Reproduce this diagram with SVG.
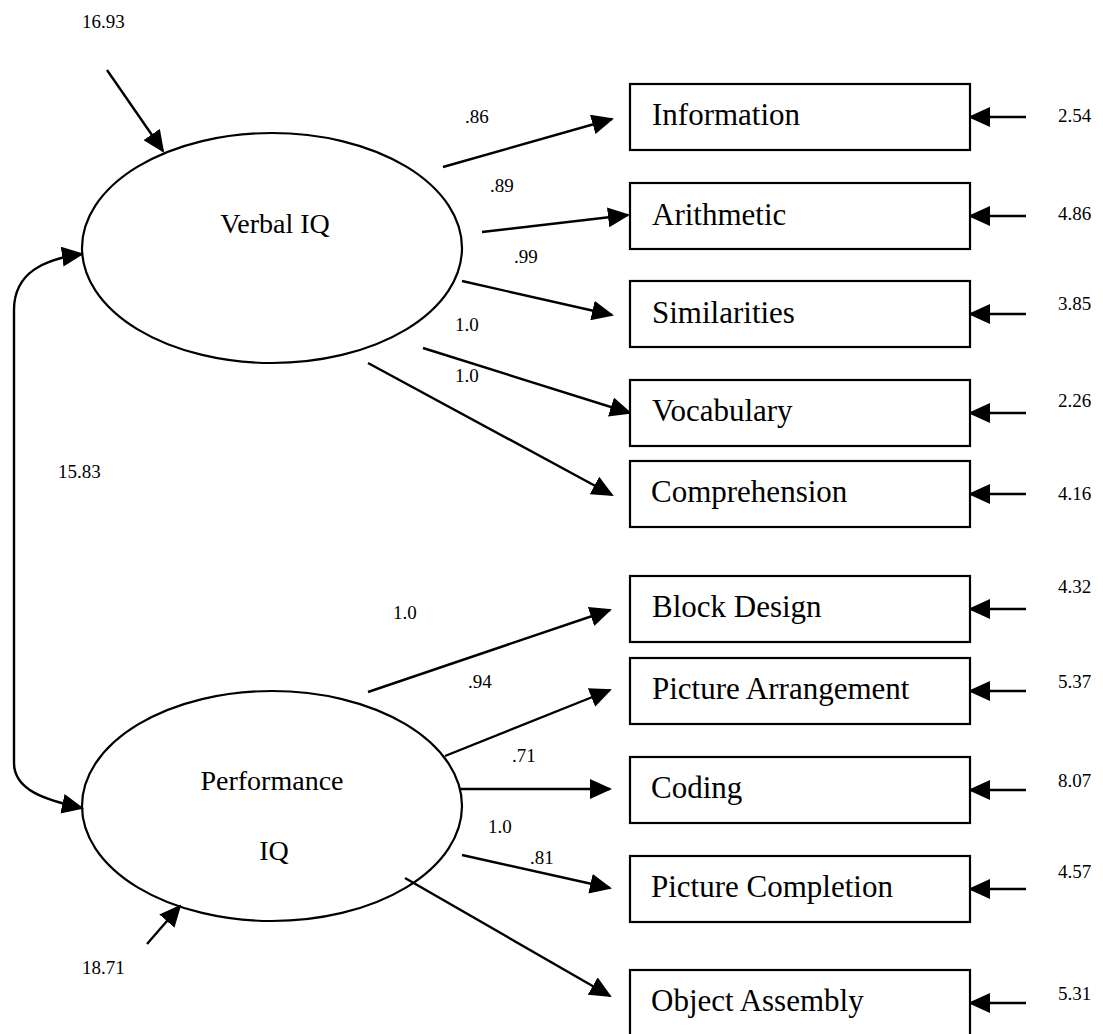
<svg xmlns="http://www.w3.org/2000/svg" width="1103" height="1034" viewBox="0 0 1103 1034">
  <style>
    .bg { fill: #ffffff; }
    .latent { fill: none; stroke: #000; stroke-width: 2.2; }
    .box { fill: #ffffff; stroke: #000; stroke-width: 2.2; }
    .lbl { font-family: "Liberation Serif", "Times New Roman", serif; font-size: 31px; fill: #000; }
    .lat { font-family: "Liberation Serif", "Times New Roman", serif; font-size: 28px; fill: #000; text-anchor: middle; }
    .num { font-family: "Liberation Serif", "Times New Roman", serif; font-size: 19px; fill: #000; }
    .conn { fill: none; stroke: #000; stroke-width: 2.4; marker-end: url(#head); }
  </style>
  <defs>
    <marker id="head" viewBox="0 0 22 20" refX="20" refY="10" markerWidth="22" markerHeight="20" markerUnits="userSpaceOnUse" orient="auto-start-reverse">
      <path d="M0,0 L22,10 L0,20 Z" fill="#000"/>
    </marker>
  </defs>

  <rect class="bg" x="0" y="0" width="1103" height="1034"/>

  <!-- connectors: loadings, residual arrows, covariance -->
  <g id="connectors">
    <!-- covariance between the two factors -->
    <path class="conn" style="marker-start: url(#head)" d="M82,254 C45,259 14,272 14,310 L14,763 C14,790 45,800 82,808"/>
    <!-- factor disturbances -->
    <line class="conn" x1="107" y1="70" x2="163" y2="151"/>
    <line class="conn" x1="147" y1="944" x2="180" y2="906"/>
    <!-- Verbal IQ loadings -->
    <line class="conn" x1="443" y1="167" x2="612" y2="119"/>
    <line class="conn" x1="482" y1="232" x2="628" y2="215"/>
    <line class="conn" x1="462" y1="281" x2="612" y2="315"/>
    <line class="conn" x1="423" y1="348" x2="630" y2="413"/>
    <line class="conn" x1="368" y1="363" x2="612" y2="495"/>
    <!-- Performance IQ loadings -->
    <line class="conn" x1="368" y1="692" x2="610" y2="610"/>
    <line class="conn" x1="445" y1="756" x2="610" y2="690"/>
    <line class="conn" x1="460" y1="789" x2="610" y2="789"/>
    <line class="conn" x1="462" y1="855" x2="610" y2="888"/>
    <line class="conn" x1="405" y1="878" x2="610" y2="996"/>
    <!-- indicator error terms -->
    <line class="conn" x1="1026" y1="117" x2="970" y2="117"/>
    <line class="conn" x1="1026" y1="216" x2="970" y2="216"/>
    <line class="conn" x1="1026" y1="314" x2="970" y2="314"/>
    <line class="conn" x1="1026" y1="413" x2="970" y2="413"/>
    <line class="conn" x1="1026" y1="494" x2="970" y2="494"/>
    <line class="conn" x1="1026" y1="609" x2="970" y2="609"/>
    <line class="conn" x1="1026" y1="691" x2="970" y2="691"/>
    <line class="conn" x1="1026" y1="790" x2="970" y2="790"/>
    <line class="conn" x1="1026" y1="889" x2="970" y2="889"/>
    <line class="conn" x1="1026" y1="1003" x2="970" y2="1003"/>
  </g>

  <!-- path coefficients and variances -->
  <g id="coefficients">
    <text class="num" x="82" y="28">16.93</text>
    <text class="num" x="58" y="478">15.83</text>
    <text class="num" x="82" y="974">18.71</text>
    <text class="num" x="465" y="123">.86</text>
    <text class="num" x="490" y="192">.89</text>
    <text class="num" x="514" y="263">.99</text>
    <text class="num" x="455" y="331">1.0</text>
    <text class="num" x="455" y="382">1.0</text>
    <text class="num" x="393" y="619">1.0</text>
    <text class="num" x="468" y="688">.94</text>
    <text class="num" x="512" y="762">.71</text>
    <text class="num" x="488" y="833">1.0</text>
    <text class="num" x="530" y="864">.81</text>
    <text class="num" x="1058" y="122">2.54</text>
    <text class="num" x="1058" y="220">4.86</text>
    <text class="num" x="1058" y="310">3.85</text>
    <text class="num" x="1058" y="407">2.26</text>
    <text class="num" x="1058" y="500">4.16</text>
    <text class="num" x="1058" y="593">4.32</text>
    <text class="num" x="1058" y="688">5.37</text>
    <text class="num" x="1058" y="787">8.07</text>
    <text class="num" x="1058" y="878">4.57</text>
    <text class="num" x="1058" y="1000">5.31</text>
  </g>

  <!-- latent factors -->
  <g id="verbal-iq">
    <ellipse class="latent" cx="272" cy="248" rx="190" ry="115"/>
    <text class="lat" x="275" y="233">Verbal IQ</text>
  </g>
  <g id="performance-iq">
    <ellipse class="latent" cx="272" cy="806" rx="190" ry="115"/>
    <text class="lat" x="272" y="790">Performance</text>
    <text class="lat" x="274" y="860">IQ</text>
  </g>

  <!-- observed subtests -->
  <g id="information">
    <rect class="box" x="630" y="84" width="340" height="66"/>
    <text class="lbl" x="652" y="125">Information</text>
  </g>
  <g id="arithmetic">
    <rect class="box" x="630" y="183" width="340" height="66"/>
    <text class="lbl" x="652" y="225">Arithmetic</text>
  </g>
  <g id="similarities">
    <rect class="box" x="630" y="281" width="340" height="66"/>
    <text class="lbl" x="652" y="323">Similarities</text>
  </g>
  <g id="vocabulary">
    <rect class="box" x="630" y="380" width="340" height="66"/>
    <text class="lbl" x="652" y="421">Vocabulary</text>
  </g>
  <g id="comprehension">
    <rect class="box" x="630" y="461" width="340" height="66"/>
    <text class="lbl" x="651" y="502">Comprehension</text>
  </g>
  <g id="block-design">
    <rect class="box" x="630" y="576" width="340" height="66"/>
    <text class="lbl" x="652" y="617">Block Design</text>
  </g>
  <g id="picture-arrangement">
    <rect class="box" x="630" y="658" width="340" height="66"/>
    <text class="lbl" x="652" y="699">Picture Arrangement</text>
  </g>
  <g id="coding">
    <rect class="box" x="630" y="757" width="340" height="66"/>
    <text class="lbl" x="651" y="798">Coding</text>
  </g>
  <g id="picture-completion">
    <rect class="box" x="630" y="856" width="340" height="66"/>
    <text class="lbl" x="651" y="897">Picture Completion</text>
  </g>
  <g id="object-assembly">
    <rect class="box" x="630" y="970" width="340" height="68"/>
    <text class="lbl" x="651" y="1011">Object Assembly</text>
  </g>
</svg>
